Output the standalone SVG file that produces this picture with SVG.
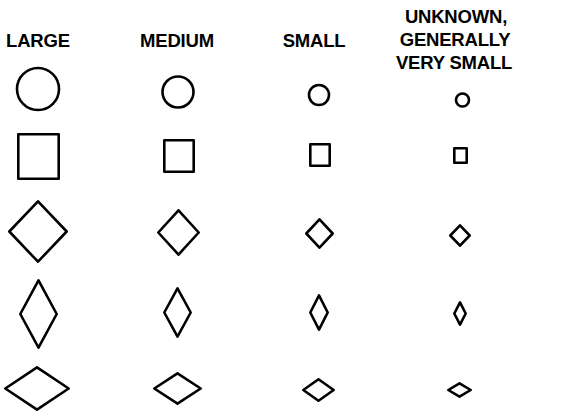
<svg xmlns="http://www.w3.org/2000/svg" width="569" height="412" viewBox="0 0 569 412">
<style>
.s{fill:none;stroke:#000;stroke-width:2.6;stroke-linejoin:round}
.t{font-family:"Liberation Sans",Arial,sans-serif;font-weight:bold;font-size:18.5px;text-anchor:middle;fill:#000;letter-spacing:-0.2px}
</style>
<rect width="569" height="412" fill="#fff"/>
<g id="labels">
<text class="t" x="38" y="47">LARGE</text>
<text class="t" x="177" y="47">MEDIUM</text>
<text class="t" x="314" y="47">SMALL</text>
<text class="t" x="456" y="23">UNKNOWN,</text>
<text class="t" x="455" y="46">GENERALLY</text>
<text class="t" x="454" y="69">VERY SMALL</text>
</g>
<g id="circles">
<circle class="s" cx="38" cy="89" r="21"/>
<circle class="s" cx="178" cy="92" r="15.5"/>
<circle class="s" cx="319" cy="95" r="10"/>
<circle class="s" cx="462.5" cy="100" r="6.5"/>
</g>
<g id="squares">
<rect class="s" x="18.3" y="134.3" width="40.4" height="44.4"/>
<rect class="s" x="164.3" y="140.3" width="29.4" height="31.4"/>
<rect class="s" x="310.3" y="144.3" width="19.4" height="21.4"/>
<rect class="s" x="454.3" y="148.3" width="12.4" height="14.4"/>
</g>
<g id="diamonds">
<polygon class="s" points="38,201.3 66.7,231.5 38,261.7 9.3,231.5"/>
<polygon class="s" points="178.5,210.3 198.7,232.5 178.5,254.7 158.3,232.5"/>
<polygon class="s" points="319.5,219.3 332.7,233.5 319.5,247.7 306.3,233.5"/>
<polygon class="s" points="460,225.3 469.7,235.5 460,245.7 450.3,235.5"/>
</g>
<g id="tall-diamonds">
<polygon class="s" points="38.5,280.3 56.7,314 38.5,347.7 20.3,314"/>
<polygon class="s" points="177.5,288.3 190.7,312.5 177.5,336.7 164.3,312.5"/>
<polygon class="s" points="319,295.3 327.7,312.5 319,329.7 310.3,312.5"/>
<polygon class="s" points="460,302.3 465.7,313.5 460,324.7 454.3,313.5"/>
</g>
<g id="wide-diamonds">
<polygon class="s" points="37,367.3 68.7,388.5 37,409.7 5.3,388.5"/>
<polygon class="s" points="177.5,373.3 200.7,388.5 177.5,403.7 154.3,388.5"/>
<polygon class="s" points="318.5,379.3 333.7,390 318.5,400.7 303.3,390"/>
<polygon class="s" points="459.5,383.3 470.7,390 459.5,396.7 448.3,390"/>
</g>
</svg>
